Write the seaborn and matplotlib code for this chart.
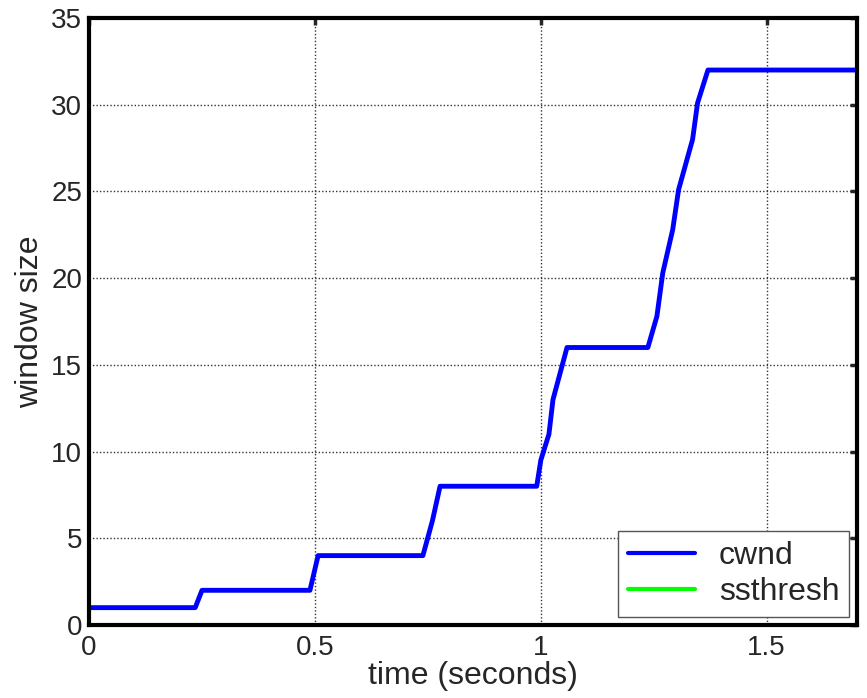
import numpy as np
import pandas as pd
import matplotlib
matplotlib.use("Agg")
import matplotlib.pyplot as plt
import seaborn as sns

# cwnd trace (time in seconds, window in segments)
cwnd_t = [0.0, 0.235, 0.25, 0.489, 0.507, 0.739, 0.760, 0.777, 0.991, 1.000, 1.018,
          1.027, 1.058, 1.237, 1.257, 1.270, 1.292, 1.305, 1.336, 1.347, 1.370, 1.70]
cwnd_w = [1, 1, 2, 2, 4, 4, 6, 8, 8, 9.5, 11,
          13, 16, 16, 17.8, 20.3, 22.8, 25.1, 28, 30.1, 32, 32]

# ssthresh stays above the visible range the whole time
ss_t = [0.0, 1.70]
ss_w = [64, 64]

df = pd.concat([
    pd.DataFrame({'time': cwnd_t, 'window': cwnd_w, 'series': 'cwnd'}),
    pd.DataFrame({'time': ss_t, 'window': ss_w, 'series': 'ssthresh'}),
])

sns.set_style("white")
plt.rcParams['font.family'] = ['Liberation Sans', 'DejaVu Sans']

fig = plt.figure(figsize=(8.67, 6.98), dpi=100)
ax = fig.add_axes([0.1027, 0.1046, 0.8858, 0.8696])

sns.lineplot(data=df, x='time', y='window', hue='series',
             palette={'cwnd': '#0000ff', 'ssthresh': '#00ff00'},
             linewidth=3.5, estimator=None, sort=False, ax=ax)

ax.set_xlim(0, 1.7)
ax.set_ylim(0, 35)
ax.set_xticks([0, 0.5, 1, 1.5])
ax.set_xticklabels(['0', '0.5', '1', '1.5'])
ax.set_yticks(range(0, 36, 5))
ax.set_xlabel('time (seconds)', fontsize=23, labelpad=0)
ax.set_ylabel('window size', fontsize=23, labelpad=4)
ax.tick_params(axis='x', pad=7)
ax.tick_params(axis='y', pad=5)
ax.tick_params(labelsize=20, direction='in', length=5, width=2.5,
               top=True, right=True)

ax.grid(True, color='#333333', linestyle=(0, (1, 1.5)), linewidth=1.0)
for s in ax.spines.values():
    s.set_visible(True)
    s.set_color('black')
    s.set_linewidth(3)

leg = ax.legend(loc='lower right', fontsize=23, frameon=True, fancybox=False,
                edgecolor='#555555', framealpha=1, handlelength=2.1,
                handletextpad=0.75, borderpad=0.3, borderaxespad=0.25,
                labelspacing=0.2)
leg.get_frame().set_linewidth(1.0)
for line in leg.get_lines():
    line.set_linewidth(3)

fig.savefig('out.png', dpi=100, facecolor='white')
